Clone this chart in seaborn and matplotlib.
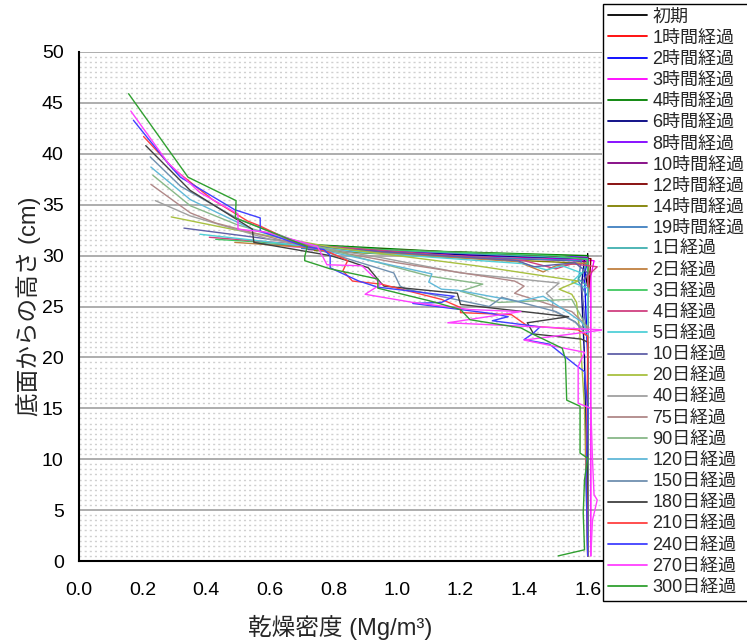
import matplotlib
matplotlib.use("Agg")
import matplotlib.pyplot as plt
import seaborn as sns
import pandas as pd
from matplotlib.ticker import MultipleLocator

# ---- data: (dry density Mg/m3, height cm), top -> bottom ----
s_init = [(1.60,30.2),(1.60,29.6),(1.59,28.5),(1.60,27.0),(1.60,24.0),(1.60,20.0),(1.60,15.0),(1.60,10.0),(1.60,5.0),(1.60,0.5)]
s_1h = [(0.64,31.0),(1.00,30.4),(1.35,29.9),(1.60,29.6),(1.60,27.0),(1.60,22.0),(1.60,12.0),(1.60,0.5)]
s_2h = [(0.70,31.1),(1.05,30.4),(1.40,30.0),(1.60,29.8),(1.59,28.0),(1.60,20.0),(1.60,0.5)]
s_3h = [(0.66,30.9),(1.10,30.2),(1.45,29.8),(1.62,29.5),(1.61,28.0),(1.61,15.0),(1.61,0.5)]
s_4h = [(0.72,31.1),(1.15,30.4),(1.60,30.0),(1.60,27.0),(1.60,0.5)]
s_6h = [(0.74,30.8),(1.20,30.1),(1.59,29.7),(1.58,27.0),(1.59,20.0),(1.60,0.5)]
s_8h = [(0.78,30.7),(1.30,30.1),(1.60,29.8),(1.60,0.5)]
s_10h = [(0.72,30.6),(1.20,29.9),(1.55,29.5),(1.60,29.4),(1.60,0.5)]
s_12h = [(0.80,30.8),(1.30,30.2),(1.61,29.7),(1.60,25.0),(1.60,0.5)]
s_14h = [(0.74,30.5),(1.25,29.7),(1.55,29.3),(1.60,29.2),(1.60,0.5)]
s_19h = [(0.70,30.7),(1.20,29.9),(1.58,29.5),(1.57,27.5),(1.60,26.0),(1.60,0.5)]
s_1d = [(0.56,31.2),(1.00,30.5),(1.45,29.9),(1.60,29.7),(1.59,28.6),(1.57,27.7),(1.60,27.0),(1.60,0.5)]
s_2d = [(0.49,31.3),(0.95,30.3),(1.38,29.4),(1.46,28.4),(1.50,29.0),(1.60,29.3),(1.60,27.5),(1.60,0.5)]
s_3d = [(0.43,31.6),(0.95,30.6),(1.50,30.0),(1.60,29.6),(1.60,26.0),(1.60,0.5)]
s_4d = [(0.41,31.8),(0.95,30.5),(1.40,29.5),(1.50,28.7),(1.55,29.2),(1.63,28.9),(1.60,28.0),(1.60,0.5)]
s_5d = [(0.38,32.1),(0.90,30.3),(1.40,29.2),(1.47,28.6),(1.52,29.0),(1.58,28.3),(1.55,27.4),(1.60,26.8),(1.60,22.5),(1.60,0.5)]
s_10d = [(0.33,32.7),(0.85,30.6),(1.38,29.5),(1.43,28.9),(1.56,29.3),(1.60,28.3),(1.58,27.2),(1.59,24.0),(1.60,22.0),(1.60,0.5)]
s_20d = [(0.29,33.8),(0.48,32.6),(0.80,30.8),(1.25,29.0),(1.57,27.5),(1.51,26.7),(1.55,26.2),(1.565,25.4),(1.575,22.4),(1.58,20.1),(1.59,15.0),(1.60,0.5)]
s_40d = [(0.24,35.4),(0.35,33.9),(0.60,31.6),(0.95,29.8),(1.20,28.3),(1.51,27.3),(1.47,26.3),(1.49,25.7),(1.49,24.6),(1.56,23.5),(1.60,22.5),(1.60,0.5)]
s_75d = [(0.226,37.0),(0.35,34.2),(0.43,33.2),(0.70,31.0),(1.00,29.3),(1.37,27.5),(1.40,27.0),(1.37,26.3),(1.43,25.7),(1.55,24.5),(1.60,23.0),(1.60,0.5)]
s_90d = [(0.232,37.9),(0.35,34.9),(0.50,33.0),(0.75,30.9),(1.10,28.0),(1.27,27.2),(1.20,26.5),(1.32,25.4),(1.55,25.7),(1.58,24.0),(1.60,22.5),(1.60,0.5)]
s_120d = [(0.226,38.7),(0.35,35.5),(0.55,32.5),(0.80,30.3),(1.11,28.2),(1.10,27.4),(1.14,26.7),(1.19,26.6),(1.38,25.5),(1.46,26.0),(1.52,24.8),(1.58,23.5),(1.60,22.5),(1.60,0.5)]
s_150d = [(0.224,39.7),(0.32,36.8),(0.50,33.6),(0.75,30.6),(0.99,28.3),(1.01,27.0),(1.03,26.7),(1.29,25.0),(1.33,25.9),(1.50,24.5),(1.56,23.5),(1.58,22.8),(1.60,22.0),(1.60,0.5)]
s_180d = [(0.21,40.8),(0.35,36.4),(0.545,32.6),(0.55,31.3),(0.79,30.0),(0.845,29.5),(0.91,28.8),(0.95,27.3),(0.96,27.0),(1.19,26.3),(1.20,25.2),(1.54,24.0),(1.41,23.4),(1.43,22.3),(1.58,21.8),(1.60,21.5),(1.60,0.5)]
s_210d = [(0.203,41.7),(0.298,38.5),(0.42,35.5),(0.53,33.4),(0.57,32.9),(0.67,31.4),(0.79,30.3),(0.845,29.5),(0.83,28.5),(0.86,27.5),(0.95,27.2),(1.14,25.7),(1.20,24.9),(1.20,24.4),(1.36,24.2),(1.41,23.1),(1.50,22.9),(1.57,22.7),(1.60,22.1),(1.60,20.0),(1.595,10.0),(1.60,0.5)]
s_240d = [(0.171,43.3),(0.287,38.8),(0.319,37.7),(0.49,34.5),(0.57,33.7),(0.57,32.4),(0.71,30.9),(0.77,30.6),(0.79,30.0),(0.79,28.8),(0.88,27.5),(0.94,26.9),(1.18,26.0),(1.14,25.4),(1.05,25.3),(1.30,24.3),(1.35,24.0),(1.30,23.6),(1.45,23.0),(1.43,22.4),(1.40,21.75),(1.48,21.3),(1.56,19.3),(1.59,18.6),(1.60,15.0),(1.595,8.0),(1.60,0.5)]
s_270d = [(0.163,44.2),(0.28,39.1),(0.38,36.2),(0.50,34.1),(0.50,32.6),(0.59,32.3),(0.75,30.9),(0.78,29.1),(0.89,29.0),(0.95,27.2),(0.90,26.2),(1.05,25.4),(1.23,24.7),(1.39,24.5),(1.16,23.4),(1.65,22.7),(1.40,21.7),(1.59,20.5),(1.57,19.1),(1.57,15.5),(1.61,15.0),(1.615,10.0),(1.62,6.5),(1.63,6.0),(1.615,4.0),(1.61,0.5)]
s_300d = [(0.156,45.9),(0.343,37.7),(0.494,35.4),(0.492,33.7),(0.718,30.9),(0.71,29.9),(0.71,29.5),(0.79,28.7),(0.94,27.7),(0.94,26.8),(1.11,25.5),(1.20,24.7),(1.23,23.7),(1.39,22.9),(1.42,22.4),(1.52,20.9),(1.53,19.8),(1.534,15.8),(1.576,15.2),(1.576,10.6),(1.60,10.1),(1.59,8.0),(1.586,4.7),(1.59,1.1),(1.507,0.5)]

labels = ["初期","1時間経過","2時間経過","3時間経過","4時間経過","6時間経過","8時間経過",
          "10時間経過","12時間経過","14時間経過","19時間経過","1日経過","2日経過","3日経過",
          "4日経過","5日経過","10日経過","20日経過","40日経過","75日経過","90日経過",
          "120日経過","150日経過","180日経過","210日経過","240日経過","270日経過","300日経過"]
series = [s_init,s_1h,s_2h,s_3h,s_4h,s_6h,s_8h,s_10h,s_12h,s_14h,s_19h,s_1d,s_2d,s_3d,
          s_4d,s_5d,s_10d,s_20d,s_40d,s_75d,s_90d,s_120d,s_150d,s_180d,s_210d,s_240d,s_270d,s_300d]
colors = ["#000000","#FF0000","#0000FF","#FF00FF","#008000","#000080","#8000FF",
          "#800080","#800000","#808000","#4080C0","#40B0B0","#C08040","#40C860",
          "#D04080","#50D0D8","#6060A8","#A8C040","#A0A0A0","#B08888","#88B888",
          "#60B8D8","#7090B0","#404040","#FF4040","#4040FF","#FF40FF","#30A030"]

rows = []
for lab, s in zip(labels, series):
    for i, (d, h) in enumerate(s):
        rows.append({"label": lab, "order": i, "density": d, "height": h})
df = pd.DataFrame(rows)

sns.set_style("white")
plt.rcParams['font.family'] = ['Liberation Sans', 'Noto Sans CJK JP', 'DejaVu Sans']

fig = plt.figure(figsize=(7.47, 6.41), dpi=100)
ax = fig.add_axes([79/747, 80/641, 523/747, 509/641])

sns.lineplot(data=df, x="density", y="height", hue="label", hue_order=labels,
             palette=dict(zip(labels, colors)), sort=False, estimator=None,
             linewidth=1.0, ax=ax, legend=True)

ax.set_xlim(0, 1.645)
ax.set_ylim(0, 50)
ax.xaxis.set_major_locator(MultipleLocator(0.2))
ax.xaxis.set_minor_locator(MultipleLocator(0.1))
ax.yaxis.set_major_locator(MultipleLocator(5))
ax.yaxis.set_minor_locator(MultipleLocator(0.5))
ax.set_xticks([0,0.2,0.4,0.6,0.8,1.0,1.2,1.4,1.6])
ax.set_xticklabels(["0.0","0.2","0.4","0.6","0.8","1.0","1.2","1.4","1.6"])

ax.grid(False)
ax.yaxis.grid(True, which="major", color="#a0a0a0", linewidth=1.2, linestyle="-")
ax.yaxis.grid(True, which="minor", color="#d0d0d0", linewidth=1.0, linestyle=(0, (1.5, 2.2)))
ax.set_axisbelow(True)

for sp in ["top", "right"]:
    ax.spines[sp].set_visible(False)
for sp in ["left", "bottom"]:
    ax.spines[sp].set_color("black")
    ax.spines[sp].set_linewidth(1.5)

ax.tick_params(axis="both", which="major", direction="out", length=7, width=1.5,
               labelsize=14, colors="black", pad=4)
ax.tick_params(axis="both", which="minor", direction="out", length=4, width=1.2)
ax.tick_params(axis="x", which="major", pad=8)

ax.set_xlabel("乾燥密度 (Mg/m³)", fontsize=17)
ax.set_ylabel("底面からの高さ (cm)", fontsize=17)
ax.xaxis.set_label_coords(0.5, -0.106)
ax.yaxis.set_label_coords(-0.072, 0.5)

handles, labs = ax.get_legend_handles_labels()
leg = ax.legend(handles, labs, loc="upper left", bbox_to_anchor=(603/747, 1 - 4/641),
                bbox_transform=fig.transFigure, fontsize=13, frameon=True, fancybox=False,
                edgecolor="black", framealpha=1, borderaxespad=0, borderpad=0.25,
                labelspacing=0.23, handlelength=2.2, handletextpad=0.28)
leg.get_frame().set_linewidth(1.0)
for line in leg.get_lines():
    line.set_linewidth(1.3)

fig.savefig("out.png", dpi=100)
